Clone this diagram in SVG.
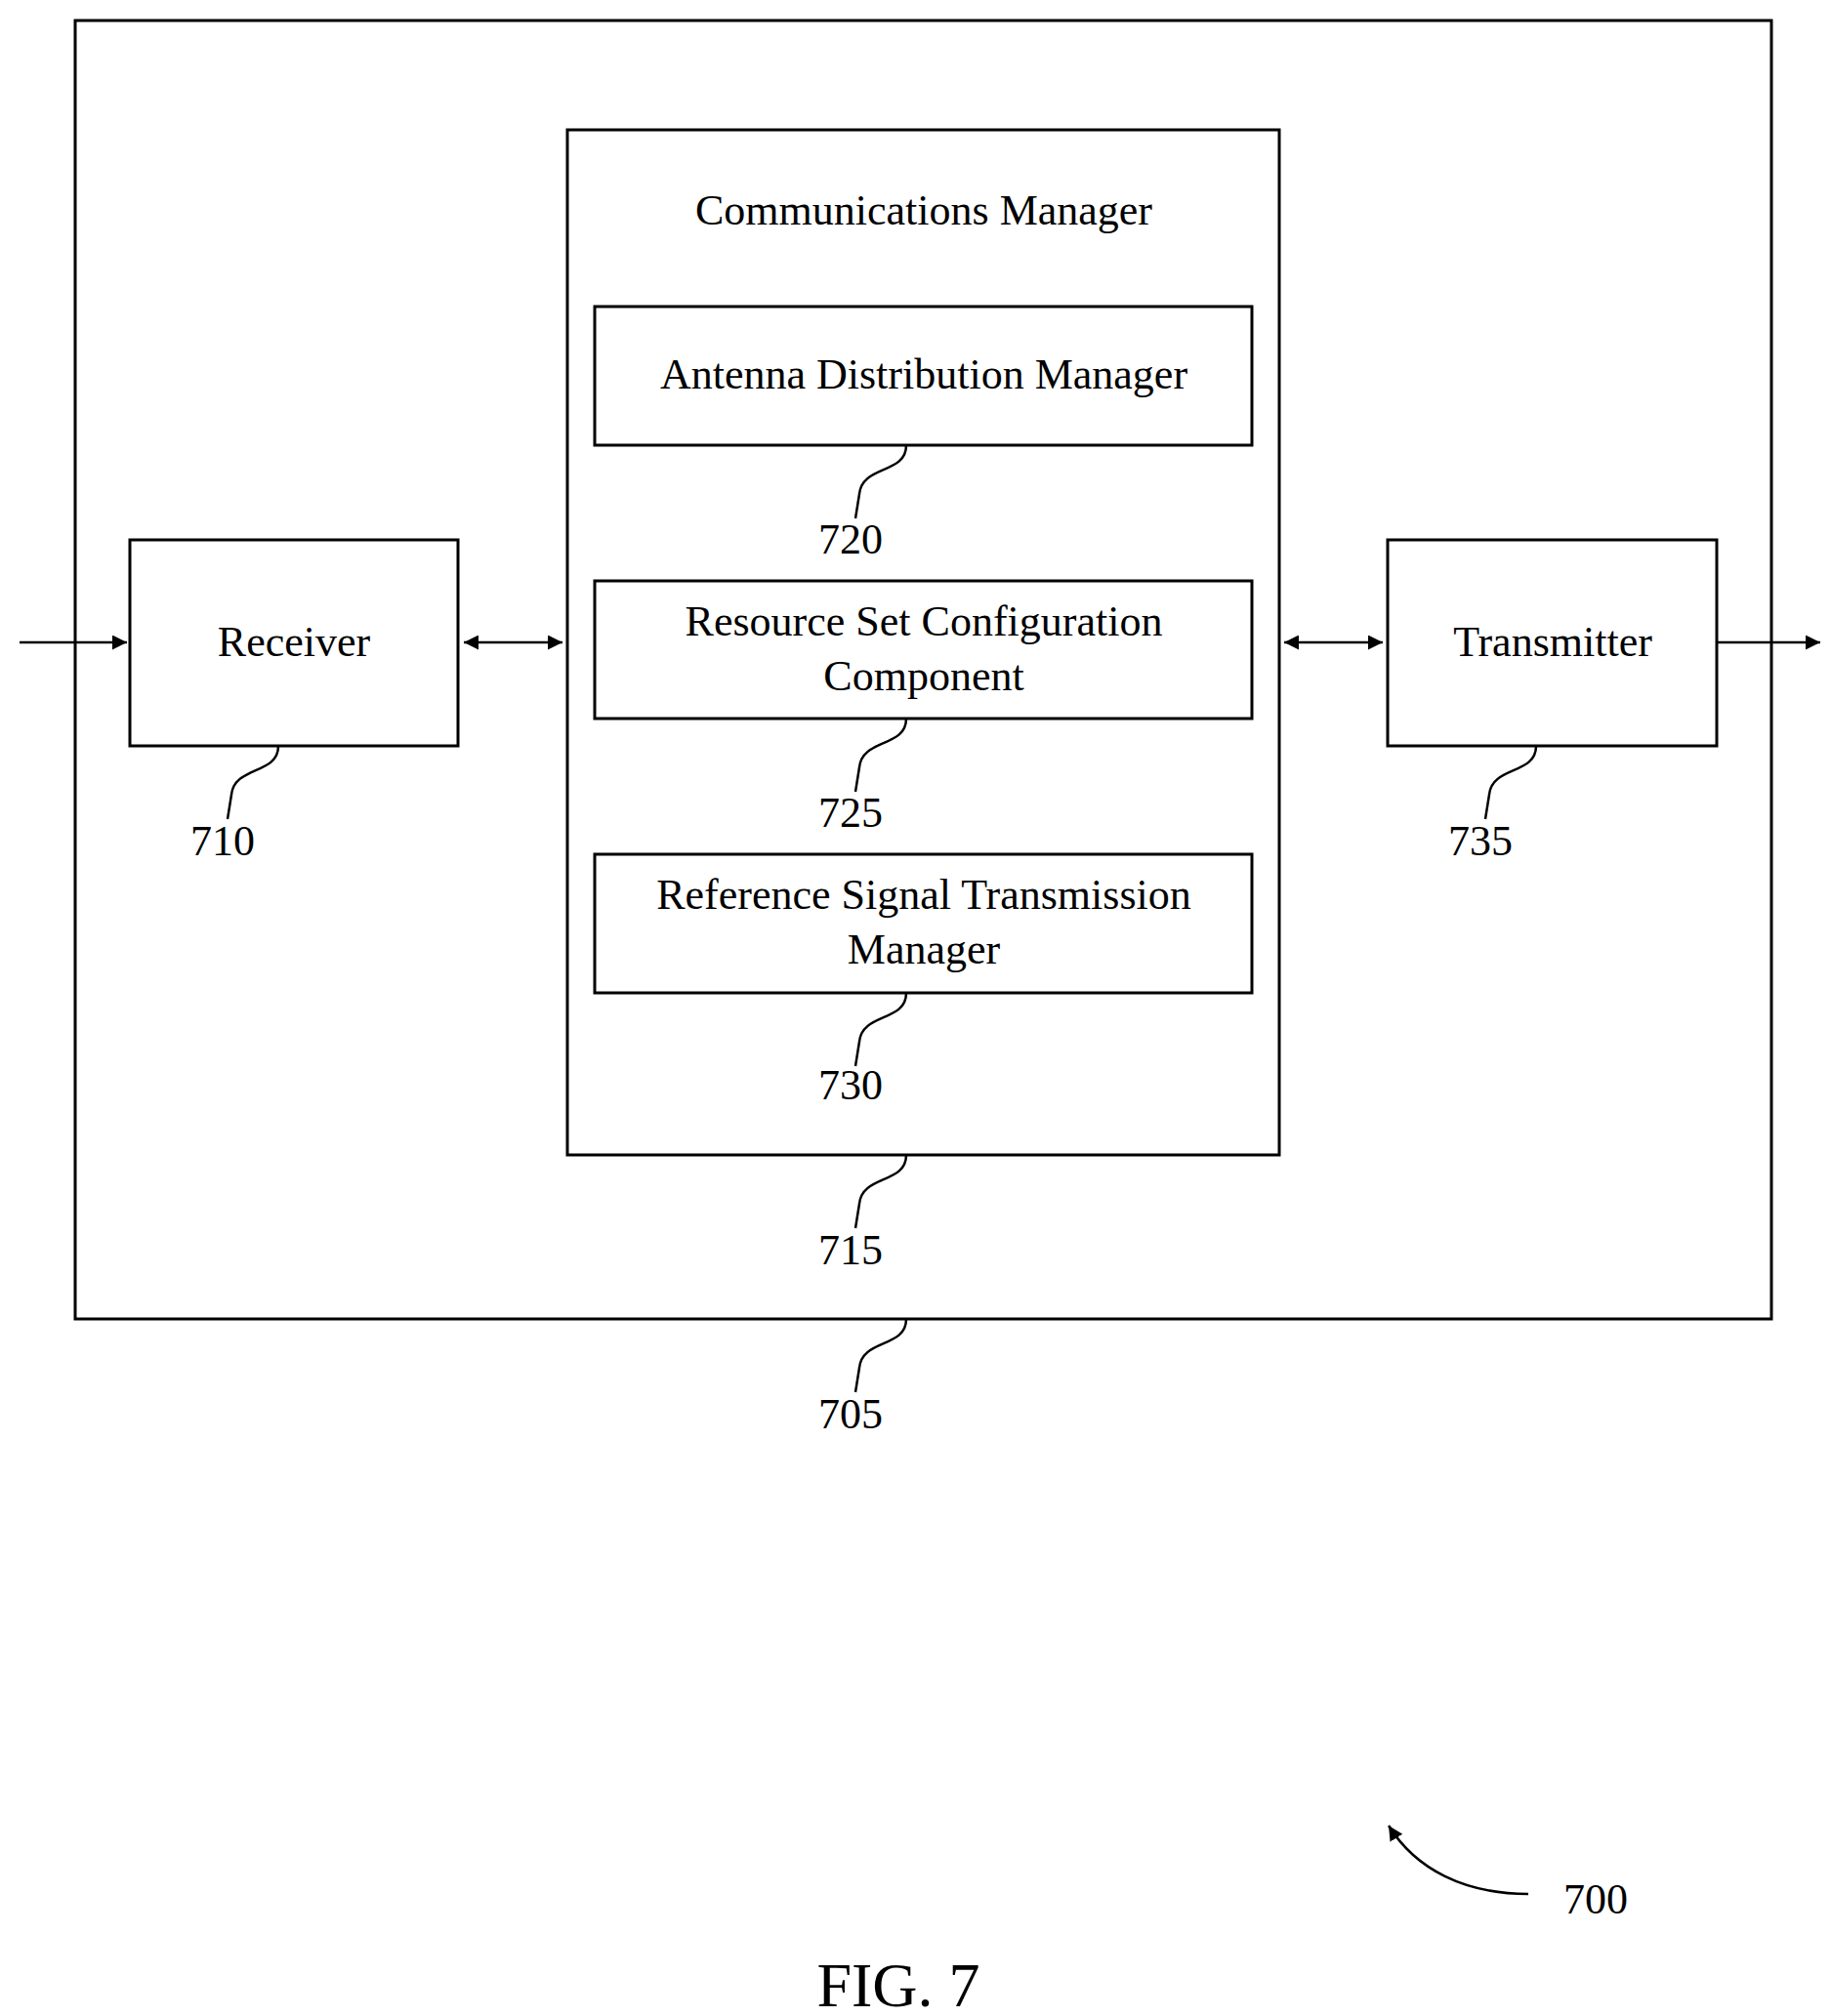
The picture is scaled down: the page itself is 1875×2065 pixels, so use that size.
<svg xmlns="http://www.w3.org/2000/svg" width="1875" height="2065" viewBox="0 0 1875 2065">
<style>
.b{fill:none;stroke:#000;stroke-width:3}
.l{fill:none;stroke:#000;stroke-width:2.5}
text{font-family:"Liberation Serif",serif;font-size:44px;fill:#000;text-anchor:middle}
</style>
<defs>
<marker id="a" viewBox="0 0 10 10" refX="10" refY="5" markerWidth="6" markerHeight="6" orient="auto-start-reverse"><path d="M0,0L10,5L0,10z" fill="#000"/></marker>
</defs>
<rect width="1875" height="2065" fill="#fff"/>
<g id="n705"><rect class="b" x="77" y="21" width="1737" height="1330"/><path class="l" d="M928,1351c0,30 -45,20 -48,50l-4,25"/><text x="871" y="1463">705</text></g>
<g id="n715"><rect class="b" x="581" y="133" width="729" height="1050"/><text x="946" y="230">Communications Manager</text><path class="l" d="M928,1183c0,30 -45,20 -48,50l-4,25"/><text x="871" y="1295">715</text></g>
<g id="n720"><rect class="b" x="609" y="314" width="673" height="142"/><text x="946" y="398">Antenna Distribution Manager</text><path class="l" d="M928,456c0,30 -45,20 -48,50l-4,25"/><text x="871" y="567">720</text></g>
<g id="n725"><rect class="b" x="609" y="595" width="673" height="141"/><text x="946" y="651">Resource Set Configuration</text><text x="946" y="707">Component</text><path class="l" d="M928,736c0,30 -45,20 -48,50l-4,25"/><text x="871" y="847">725</text></g>
<g id="n730"><rect class="b" x="609" y="875" width="673" height="142"/><text x="946" y="931">Reference Signal Transmission</text><text x="946" y="987">Manager</text><path class="l" d="M928,1017c0,30 -45,20 -48,50l-4,25"/><text x="871" y="1126">730</text></g>
<g id="n710"><rect class="b" x="133" y="553" width="336" height="211"/><text x="301" y="672">Receiver</text><path class="l" d="M285,764c0,30 -45,20 -48,50l-4,25"/><text x="228" y="876">710</text></g>
<g id="n735"><rect class="b" x="1421" y="553" width="337" height="211"/><text x="1590" y="672">Transmitter</text><path class="l" d="M1573,764c0,30 -45,20 -48,50l-4,25"/><text x="1516" y="876">735</text></g>
<g id="connectors">
<line class="l" x1="20" y1="658" x2="130" y2="658" marker-end="url(#a)"/>
<line class="l" x1="475" y1="658" x2="576" y2="658" marker-start="url(#a)" marker-end="url(#a)"/>
<line class="l" x1="1315" y1="658" x2="1416" y2="658" marker-start="url(#a)" marker-end="url(#a)"/>
<line class="l" x1="1758" y1="658" x2="1864" y2="658" marker-end="url(#a)"/>
<path class="l" d="M1565,1940C1500,1940 1450,1915 1422,1870" marker-end="url(#a)"/>
</g>
<text x="1634" y="1960">700</text>
<text x="920" y="2055" style="font-size:64px">FIG. 7</text>
</svg>
